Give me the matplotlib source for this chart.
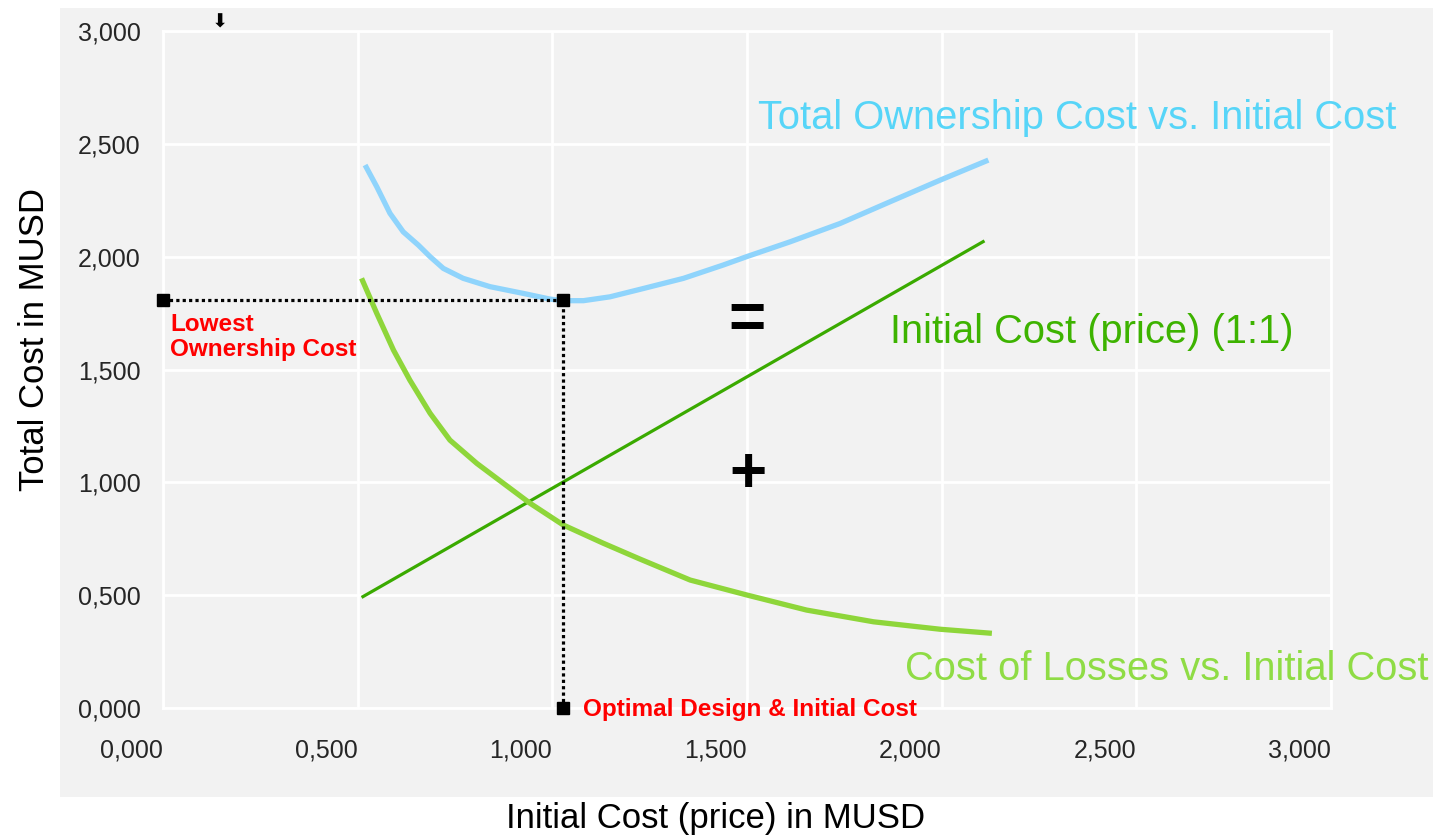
import matplotlib.pyplot as plt
from matplotlib.patches import Rectangle
from matplotlib.ticker import FuncFormatter

total_x = [0.519, 0.549, 0.583, 0.617, 0.656, 0.686, 0.720, 0.771, 0.840, 0.926, 0.994, 1.028,
           1.080, 1.148, 1.234, 1.337, 1.439, 1.499, 1.611, 1.739, 1.867, 1.996, 2.120]
total_y = [2.406, 2.310, 2.192, 2.110, 2.051, 2.000, 1.948, 1.904, 1.867, 1.837, 1.812, 1.805,
           1.805, 1.822, 1.859, 1.904, 1.963, 2.000, 2.066, 2.147, 2.243, 2.339, 2.428]

initial_x = [0.51, 2.11]
initial_y = [0.49, 2.07]

losses_x = [0.510, 0.549, 0.592, 0.634, 0.686, 0.737, 0.806, 0.874, 0.943, 1.028, 1.131,
            1.225, 1.354, 1.499, 1.653, 1.825, 1.996, 2.129]
losses_y = [1.904, 1.749, 1.586, 1.453, 1.306, 1.187, 1.084, 0.996, 0.907, 0.811, 0.730,
            0.660, 0.567, 0.501, 0.434, 0.382, 0.349, 0.331]

opt_x = 1.028
opt_y = 1.81

ticks = [0.0, 0.5, 1.0, 1.5, 2.0, 2.5, 3.0]

plt.rcParams['font.family'] = ['Liberation Sans', 'DejaVu Sans']

fig = plt.figure(figsize=(14.33, 8.38), dpi=100)
# grey panel behind the whole chart
fig.patches.append(Rectangle((60 / 1433, 1 - 797 / 838), 1 - 60 / 1433, (797 - 8) / 838,
                             transform=fig.transFigure, facecolor='#f2f2f2',
                             edgecolor='none', zorder=-1))

ax = fig.add_axes([163 / 1433, 1 - 708 / 838, 1168 / 1433, 677 / 838])
ax.set_facecolor('#f2f2f2')
ax.set_xlim(0, 3)
ax.set_ylim(0, 3)
ax.set_xticks(ticks)
ax.set_yticks(ticks)
fmt = FuncFormatter(lambda v, p: f"{v:.3f}".replace('.', ','))
ax.xaxis.set_major_formatter(fmt)
ax.yaxis.set_major_formatter(fmt)
ax.tick_params(length=0, labelsize=18, labelcolor='#262626')
ax.tick_params(axis='x', pad=22)
ax.tick_params(axis='y', pad=16)
for lab in ax.get_xticklabels():
    lab.set_horizontalalignment('right')
ax.grid(True, color='white', linewidth=2)
for s in ax.spines.values():
    s.set_color('white')
    s.set_linewidth(2)
ax.set_axisbelow(True)

line_kw = dict(solid_capstyle='butt', solid_joinstyle='round')
ax.plot(total_x, total_y, color='#8fd4fc', linewidth=3.8, **line_kw)
ax.plot(initial_x, initial_y, color='#3aaa00', linewidth=2.3, **line_kw)
ax.plot(losses_x, losses_y, color='#8ed63a', linewidth=3.8, **line_kw)

# optimum guides
ax.plot([0, opt_x], [opt_y, opt_y], color='black', linewidth=2.3, linestyle=(0, (1, 1)), clip_on=False)
ax.plot([opt_x, opt_x], [0, opt_y], color='black', linewidth=2.3, linestyle=(0, (1, 1)), clip_on=False)
ax.plot([0, opt_x, opt_x], [opt_y, opt_y, 0], linestyle='none', marker='s', markersize=9,
        color='black', clip_on=False, zorder=5)

ax.text(1.528, 2.565, 'Total Ownership Cost vs. Initial Cost', color='#57d5f8', fontsize=28.7,
        va='baseline', ha='left', clip_on=False)
ax.text(1.867, 1.617, 'Initial Cost (price) (1:1)', color='#3db300', fontsize=28.7,
        va='baseline', ha='left')
ax.text(1.906, 0.124, 'Cost of Losses vs. Initial Cost', color='#8fdc45', fontsize=28.7,
        va='baseline', ha='left', clip_on=False)
ax.text(1.50, 1.715, '=', fontsize=46, fontweight='bold', ha='center', va='center')
ax.text(1.503, 1.032, '+', fontsize=46, fontweight='bold', ha='center', va='center')

ax.text(0.018, 1.75, 'Lowest\nOwnership Cost', color='red', fontsize=17.5,
        fontweight='bold', ha='left', va='top', linespacing=1.1)
ax.text(1.079, -0.035, 'Optimal Design & Initial Cost', color='red', fontsize=17.5,
        fontweight='bold', ha='left', va='baseline', clip_on=False)

ax.set_ylabel('Total Cost in MUSD', fontsize=25, color='black', va='center')
ax.yaxis.set_label_coords(-0.1096, 0.5436)
ax.set_xlabel('Initial Cost (price) in MUSD', fontsize=25, color='black', va='center')
ax.xaxis.set_label_coords(0.4735, -0.1625)

fig.text(220 / 1433, 1 - 22 / 838, '⬇', fontsize=14, ha='center', va='center',
         family=['DejaVu Sans'])

fig.savefig('out.png', dpi=100, facecolor='white')
